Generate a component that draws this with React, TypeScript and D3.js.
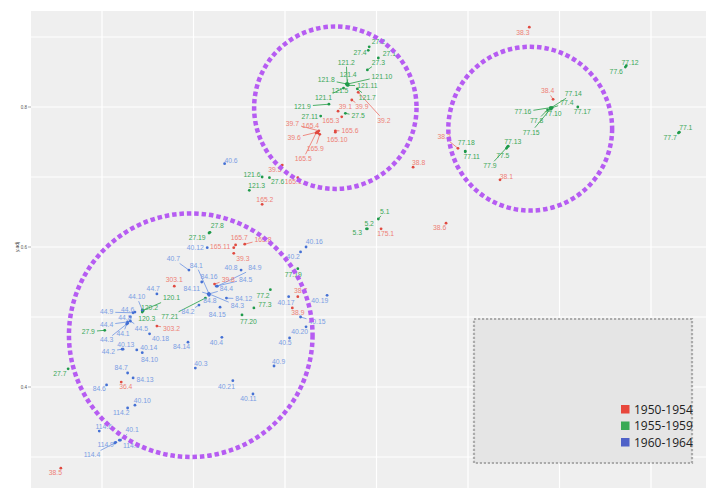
import React from "react";
import * as d3 from "d3";

// ---------- data ----------
const seriesNames = ["1950-1954", "1955-1959", "1960-1964"];

// [label, x, y]
const redPoints: [string, number, number][] = [
  ["38.3", 0.667, 0.914], ["38.4", 0.693, 0.811], ["38.2", 0.589, 0.741], ["38.1", 0.635, 0.696],
  ["38.8", 0.540, 0.714], ["38.6", 0.576, 0.634], ["175.1", 0.505, 0.626], ["39.2", 0.480, 0.821],
  ["39.9", 0.473, 0.810], ["39.1", 0.458, 0.794], ["165.3", 0.462, 0.786], ["39.7", 0.437, 0.766],
  ["165.4", 0.436, 0.763], ["39.6", 0.435, 0.764], ["165.9", 0.438, 0.761], ["165.5", 0.434, 0.763],
  ["165.6", 0.455, 0.766], ["165.10", 0.455, 0.764], ["39.5", 0.397, 0.717], ["165.1", 0.414, 0.699],
  ["165.2", 0.375, 0.661], ["165.11", 0.344, 0.599], ["165.7", 0.346, 0.603], ["165.8", 0.356, 0.604],
  ["39.3", 0.344, 0.591], ["39.8", 0.323, 0.547], ["303.1", 0.279, 0.544], ["303.2", 0.260, 0.487],
  ["38.7", 0.414, 0.529], ["38.9", 0.408, 0.513], ["36.4", 0.221, 0.407], ["38.5", 0.155, 0.284],
];

const greenPoints: [string, number, number][] = [
  ["27.2", 0.492, 0.886], ["27.4", 0.491, 0.881], ["27.1", 0.502, 0.870], ["27.3", 0.490, 0.853],
  ["121.2", 0.468, 0.833], ["121.4", 0.468, 0.833], ["121.8", 0.467, 0.833], ["121.10", 0.469, 0.833],
  ["121.5", 0.468, 0.831], ["121.11", 0.469, 0.831], ["121.7", 0.479, 0.826], ["121.1", 0.464, 0.827],
  ["121.9", 0.448, 0.804], ["27.11", 0.439, 0.787], ["27.5", 0.466, 0.791], ["121.6", 0.375, 0.700],
  ["27.6", 0.383, 0.699], ["121.3", 0.361, 0.681], ["5.1", 0.502, 0.640], ["5.2", 0.490, 0.626],
  ["5.3", 0.489, 0.626], ["77.12", 0.773, 0.859], ["77.6", 0.772, 0.857], ["77.14", 0.691, 0.799],
  ["77.4", 0.692, 0.799], ["77.16", 0.690, 0.799], ["77.10", 0.691, 0.797], ["77.8", 0.687, 0.796],
  ["77.17", 0.720, 0.800], ["77.15", 0.690, 0.797], ["77.13", 0.644, 0.744], ["77.5", 0.642, 0.741],
  ["77.9", 0.643, 0.743], ["77.18", 0.597, 0.737], ["77.11", 0.597, 0.736], ["77.1", 0.831, 0.764],
  ["77.7", 0.830, 0.763], ["27.8", 0.318, 0.621], ["27.19", 0.317, 0.620], ["77.19", 0.414, 0.569],
  ["77.2", 0.384, 0.539], ["77.3", 0.366, 0.513], ["77.20", 0.353, 0.503], ["77.21", 0.313, 0.527],
  ["120.1", 0.244, 0.509], ["120.2", 0.245, 0.509], ["120.3", 0.244, 0.507], ["27.9", 0.203, 0.481],
  ["27.7", 0.163, 0.426],
];

const bluePoints: [string, number, number][] = [
  ["40.6", 0.334, 0.719], ["40.12", 0.315, 0.599], ["40.16", 0.423, 0.600], ["40.2", 0.417, 0.593],
  ["40.8", 0.352, 0.567], ["84.9", 0.326, 0.544], ["84.5", 0.325, 0.544], ["40.7", 0.295, 0.567],
  ["84.1", 0.317, 0.533], ["84.16", 0.309, 0.550], ["84.4", 0.317, 0.533], ["84.11", 0.316, 0.533],
  ["84.8", 0.317, 0.531], ["84.12", 0.336, 0.527], ["84.3", 0.317, 0.533], ["84.2", 0.306, 0.517],
  ["84.15", 0.329, 0.514], ["40.17", 0.404, 0.529], ["40.19", 0.446, 0.531], ["40.15", 0.417, 0.500],
  ["40.20", 0.423, 0.486], ["40.5", 0.405, 0.470], ["40.9", 0.388, 0.430], ["40.11", 0.365, 0.390],
  ["40.21", 0.343, 0.409], ["40.3", 0.302, 0.427], ["40.4", 0.331, 0.471], ["84.14", 0.294, 0.464],
  ["44.7", 0.260, 0.533], ["44.10", 0.244, 0.510], ["44.6", 0.236, 0.507], ["44.9", 0.234, 0.506],
  ["44.8", 0.231, 0.500], ["44.4", 0.228, 0.493], ["44.3", 0.228, 0.491], ["44.1", 0.227, 0.490],
  ["44.5", 0.231, 0.494], ["40.18", 0.252, 0.476], ["40.13", 0.223, 0.454], ["44.2", 0.222, 0.454],
  ["40.14", 0.238, 0.453], ["84.10", 0.244, 0.449], ["84.7", 0.228, 0.420], ["84.13", 0.234, 0.413],
  ["84.6", 0.205, 0.403], ["40.10", 0.236, 0.374], ["114.2", 0.228, 0.370], ["114.6", 0.197, 0.337],
  ["40.1", 0.220, 0.324], ["114.9", 0.215, 0.321], ["114.5", 0.219, 0.324], ["114.4", 0.214, 0.320],
];

// label anchors (data units), keyed by point label
const labelAt: Record<string, [number, number]> = {
  "38.3": [0.660, 0.906], "38.4": [0.687, 0.823], "38.2": [0.574, 0.757], "38.1": [0.642, 0.701],
  "38.8": [0.546, 0.720], "38.6": [0.569, 0.627], "175.1": [0.510, 0.619], "39.2": [0.508, 0.781],
  "39.9": [0.484, 0.800], "39.1": [0.466, 0.800], "165.3": [0.450, 0.780], "39.7": [0.408, 0.776],
  "165.4": [0.428, 0.773], "39.6": [0.410, 0.756], "165.9": [0.433, 0.741], "165.5": [0.420, 0.726],
  "165.6": [0.471, 0.766], "165.10": [0.457, 0.753], "39.5": [0.389, 0.711], "165.1": [0.409, 0.694],
  "165.2": [0.378, 0.667], "165.11": [0.329, 0.600], "165.7": [0.350, 0.614], "165.8": [0.376, 0.611],
  "39.3": [0.354, 0.584], "39.8": [0.338, 0.554], "303.1": [0.279, 0.554], "303.2": [0.276, 0.484],
  "38.7": [0.417, 0.537], "38.9": [0.414, 0.506], "36.4": [0.226, 0.400], "38.5": [0.149, 0.277],

  "27.2": [0.502, 0.894], "27.4": [0.482, 0.877], "27.1": [0.514, 0.876], "27.3": [0.502, 0.864],
  "121.2": [0.467, 0.864], "121.4": [0.469, 0.846], "121.8": [0.445, 0.839], "121.10": [0.506, 0.844],
  "121.5": [0.460, 0.824], "121.11": [0.490, 0.830], "121.7": [0.490, 0.814], "121.1": [0.442, 0.813],
  "121.9": [0.419, 0.801], "27.11": [0.427, 0.786], "27.5": [0.480, 0.787], "121.6": [0.364, 0.704],
  "27.6": [0.392, 0.693], "121.3": [0.369, 0.687], "5.1": [0.509, 0.651], "5.2": [0.492, 0.634],
  "5.3": [0.479, 0.621], "77.12": [0.777, 0.864], "77.6": [0.762, 0.851], "77.14": [0.715, 0.819],
  "77.4": [0.708, 0.806], "77.16": [0.660, 0.793], "77.10": [0.693, 0.791], "77.8": [0.675, 0.780],
  "77.17": [0.725, 0.793], "77.15": [0.669, 0.764], "77.13": [0.649, 0.751], "77.5": [0.638, 0.730],
  "77.9": [0.624, 0.716], "77.18": [0.598, 0.749], "77.11": [0.604, 0.729], "77.1": [0.838, 0.771],
  "77.7": [0.821, 0.756], "27.8": [0.326, 0.630], "27.19": [0.304, 0.613], "77.19": [0.409, 0.561],
  "77.2": [0.376, 0.530], "77.3": [0.378, 0.517], "77.20": [0.360, 0.494], "77.21": [0.274, 0.501],
  "120.1": [0.276, 0.527], "120.2": [0.252, 0.514], "120.3": [0.249, 0.497], "27.9": [0.185, 0.479],
  "27.7": [0.154, 0.419],

  "40.6": [0.341, 0.724], "40.12": [0.302, 0.599], "40.16": [0.432, 0.607], "40.2": [0.409, 0.586],
  "40.8": [0.341, 0.571], "84.9": [0.367, 0.570], "84.5": [0.357, 0.554], "40.7": [0.278, 0.583],
  "84.1": [0.303, 0.574], "84.16": [0.317, 0.557], "84.4": [0.336, 0.540], "84.11": [0.298, 0.540],
  "84.8": [0.318, 0.523], "84.12": [0.355, 0.526], "84.3": [0.348, 0.516], "84.2": [0.294, 0.507],
  "84.15": [0.326, 0.503], "40.17": [0.401, 0.521], "40.19": [0.438, 0.524], "40.15": [0.435, 0.493],
  "40.20": [0.416, 0.479], "40.5": [0.400, 0.463], "40.9": [0.393, 0.436], "40.11": [0.360, 0.383],
  "40.21": [0.336, 0.400], "40.3": [0.308, 0.433], "40.4": [0.325, 0.463], "84.14": [0.287, 0.457],
  "44.7": [0.256, 0.540], "44.10": [0.238, 0.529], "44.6": [0.228, 0.511], "44.9": [0.205, 0.507],
  "44.8": [0.225, 0.499], "44.4": [0.205, 0.489], "44.3": [0.205, 0.467], "44.1": [0.223, 0.476],
  "44.5": [0.243, 0.484], "40.18": [0.264, 0.469], "40.13": [0.226, 0.461], "44.2": [0.207, 0.451],
  "40.14": [0.251, 0.456], "84.10": [0.252, 0.439], "84.7": [0.221, 0.427], "84.13": [0.247, 0.411],
  "84.6": [0.197, 0.397], "40.10": [0.244, 0.380], "114.2": [0.221, 0.363], "114.6": [0.202, 0.344],
  "40.1": [0.233, 0.339], "114.9": [0.204, 0.317], "114.5": [0.232, 0.316], "114.4": [0.189, 0.303],
};

// highlighted groups: [cx, cy, r] in data units (r along y)
const highlightCircles: [number, number, number][] = [
  [0.455, 0.799, 0.116],
  [0.668, 0.769, 0.117],
  [0.297, 0.474, 0.174],
];

const xGridValues = [0.2, 0.3, 0.4, 0.5, 0.6, 0.7, 0.8];
const yGridValues = [0.3, 0.4, 0.5, 0.6, 0.7, 0.8, 0.9];
const yTickLabels = [0.4, 0.6, 0.8];

// ---------- styles ----------
const W = 706, H = 488;
const panel = { left: 31, top: 11, right: 706, bottom: 488 };
const pointColors = ["#e04a40", "#1f9a4a", "#4470d4"];
const labelColors = ["#ee7f76", "#3aa858", "#7b9ee4"];
const legendColors = ["#e8473c", "#3aaa56", "#4f62c8"];
const FONT = "Liberation Sans, Arial, sans-serif";

const xScale = d3.scaleLinear().domain([0, 1]).range([-81, 834]);
const yScale = d3.scaleLinear().domain([0, 1]).range([667, -33]);

function segmentFor(px: number, py: number, cx: number, cy: number, text: string) {
  const hw = text.length * 1.8 + 1.5;
  const hh = 4.5;
  const dx = px - cx, dy = py - cy;
  const s = Math.min(
    Math.abs(dx) > 1e-6 ? hw / Math.abs(dx) : Infinity,
    Math.abs(dy) > 1e-6 ? hh / Math.abs(dy) : Infinity
  );
  if (s >= 1) return null;
  const ex = cx + s * dx, ey = cy + s * dy;
  const len = Math.hypot(px - ex, py - ey);
  if (len < 4) return null;
  return { x1: px, y1: py, x2: ex, y2: ey };
}

export default function App() {
  const series = [redPoints, greenPoints, bluePoints];
  const rUnit = (r: number) => Math.abs(yScale(0) - yScale(r));

  return (
    <svg width={W} height={H} style={{ position: "absolute", left: 0, top: 0, background: "#fff" }}>
      <defs>
        <clipPath id="panelClip">
          <rect x={panel.left} y={panel.top} width={panel.right - panel.left} height={panel.bottom - panel.top} />
        </clipPath>
      </defs>
      <rect x={panel.left} y={panel.top} width={panel.right - panel.left} height={panel.bottom - panel.top} fill="#efefef" />
      <g clipPath="url(#panelClip)">
        {xGridValues.map((v) => (
          <line key={"gx" + v} x1={xScale(v)} x2={xScale(v)} y1={panel.top} y2={panel.bottom} stroke="#fff" strokeWidth={1.2} />
        ))}
        {yGridValues.map((v) => (
          <line key={"gy" + v} y1={yScale(v)} y2={yScale(v)} x1={panel.left} x2={panel.right} stroke="#fff" strokeWidth={1.2} />
        ))}
        {series.map((pts, si) => (
          <g key={"seg" + si}>
            {pts.map(([name, x, y]) => {
              const la = labelAt[name];
              const seg = segmentFor(xScale(x), yScale(y), xScale(la[0]), yScale(la[1]), name);
              return seg ? (
                <line key={name} {...seg} stroke={labelColors[si]} strokeWidth={0.9} />
              ) : null;
            })}
          </g>
        ))}
        {series.map((pts, si) => (
          <g key={"pt" + si}>
            {pts.map(([name, x, y]) => (
              <circle key={name} cx={xScale(x)} cy={yScale(y)} r={1.4} fill={pointColors[si]} />
            ))}
          </g>
        ))}
        {series.map((pts, si) => (
          <g key={"lb" + si} fontFamily={FONT} fontSize={6.8} fill={labelColors[si]} textAnchor="middle">
            {pts.map(([name]) => {
              const la = labelAt[name];
              return (
                <text key={name} x={xScale(la[0])} y={yScale(la[1])} dy="0.35em">{name}</text>
              );
            })}
          </g>
        ))}
        {highlightCircles.map(([cx, cy, r], i) => (
          <circle key={"hc" + i} cx={xScale(cx)} cy={yScale(cy)} r={rUnit(r)} fill="none"
            stroke="#b65cf2" strokeWidth={4.5} strokeDasharray="4.5 2.9" />
        ))}
        {/* legend box */}
        <rect x={474} y={319} width={218} height={144} fill="#e5e5e5" stroke="#ababab" strokeWidth={2.2} strokeDasharray="2.2 1.8" />
        {seriesNames.map((s, i) => (
          <g key={s}>
            <rect x={621} y={405 + i * 16.5} width={8.5} height={8.5} fill={legendColors[i]} />
            <text x={634} y={409.5 + i * 16.5} dy="0.36em" fontFamily="Open Sans, sans-serif" fontSize={12} fill="#222">{s}</text>
          </g>
        ))}
      </g>
      {/* y axis */}
      {yTickLabels.map((v) => (
        <g key={"yt" + v}>
          <line x1={28} x2={31} y1={yScale(v)} y2={yScale(v)} stroke="#777" strokeWidth={0.6} />
          <text x={27} y={yScale(v)} dy="0.35em" textAnchor="end" fontFamily={FONT} fontSize={4.5} fill="#555">{v.toFixed(1)}</text>
        </g>
      ))}
      <text transform={`translate(17,${yScale(0.6)}) rotate(-90)`} textAnchor="middle" dy="0.35em" fontFamily={FONT} fontSize={5} fill="#444">y.adj</text>
    </svg>
  );
}
